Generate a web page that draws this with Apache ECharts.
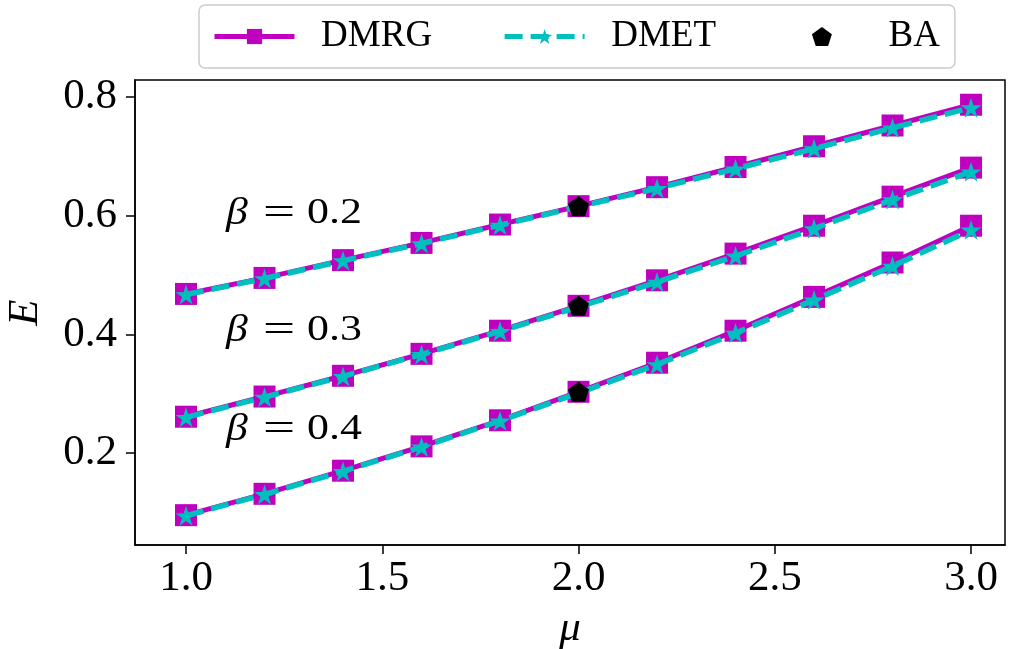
<!DOCTYPE html>
<html>
<head>
<meta charset="utf-8">
<script src="https://cdn.jsdelivr.net/npm/echarts@6/dist/echarts.min.js"></script>
<style>html,body{margin:0;padding:0;background:#fff;}#c{width:1013px;height:649px;}</style>
</head>
<body>
<div id="c"></div>
<script>
// ---- data ----
const mu = [1.0, 1.2, 1.4, 1.6, 1.8, 2.0, 2.2, 2.4, 2.6, 2.8, 3.0];
const dmrgB02 = [0.468, 0.495, 0.525, 0.554, 0.585, 0.616, 0.648, 0.682, 0.717, 0.752, 0.787];
const dmetB02 = [0.467, 0.494, 0.524, 0.553, 0.584, 0.615, 0.646, 0.679, 0.713, 0.748, 0.782];
const dmrgB03 = [0.261, 0.295, 0.330, 0.367, 0.406, 0.448, 0.491, 0.536, 0.583, 0.632, 0.681];
const dmetB03 = [0.260, 0.294, 0.329, 0.366, 0.405, 0.446, 0.488, 0.532, 0.578, 0.627, 0.674];
const dmrgB04 = [0.095, 0.131, 0.170, 0.211, 0.255, 0.303, 0.352, 0.406, 0.463, 0.521, 0.583];
const dmetB04 = [0.094, 0.130, 0.169, 0.210, 0.254, 0.301, 0.349, 0.402, 0.458, 0.515, 0.576];
const baMu = [2.0, 2.0, 2.0];
const baE = [0.616, 0.448, 0.303];
const xTicks = [1.0, 1.5, 2.0, 2.5, 3.0];
const yTicks = [0.2, 0.4, 0.6, 0.8];
const betaLabels = ['0.2', '0.3', '0.4'];

// ---- styling ----
const MAG = '#bf00bf', CYAN = '#00bfbf';
const FONT = 'Liberation Serif';
const STAR = 'path://M0,-1 L0.2245,-0.309 L0.951,-0.309 L0.363,0.118 L0.588,0.809 L0,0.382 L-0.588,0.809 L-0.363,0.118 L-0.951,-0.309 L-0.2245,-0.309 Z';
const PENT = 'path://M0,-1 L0.951,-0.309 L0.588,0.809 L-0.588,0.809 L-0.951,-0.309 Z';

const pairs = (xs, ys) => xs.map((x, i) => [x, ys[i]]);

function dmrg(ys) {
  return { name: 'DMRG', type: 'line', data: pairs(mu, ys), z: 2,
    symbol: 'rect', symbolSize: 22, showAllSymbol: true,
    lineStyle: { color: MAG, width: 5, type: 'solid' },
    itemStyle: { color: MAG, opacity: 1 }, emphasis: { disabled: true } };
}
function dmet(ys) {
  return { name: 'DMET', type: 'line', data: pairs(mu, ys), z: 3,
    symbol: STAR, symbolSize: 21, symbolKeepAspect: true, showAllSymbol: true,
    lineStyle: { color: CYAN, width: 5.5, type: [18, 8] },
    itemStyle: { color: CYAN, opacity: 1 }, emphasis: { disabled: true } };
}

const series = [
  dmrg(dmrgB02), dmrg(dmrgB03), dmrg(dmrgB04),
  dmet(dmetB02), dmet(dmetB03), dmet(dmetB04),
  { name: 'BA', type: 'scatter', data: pairs(baMu, baE), z: 4,
    symbol: PENT, symbolSize: 21, symbolKeepAspect: true,
    itemStyle: { color: '#000', opacity: 1 }, emphasis: { disabled: true } }
];

// beta annotations (pixel positions of annotation text)
const betaY = [214, 331, 430];
const graphic = [];
betaLabels.forEach((b, i) => {
  const y = betaY[i];
  graphic.push({ type: 'text', x: 226, y: y, scaleX: 1.15,
    style: { text: 'β', font: 'italic 38px "' + FONT + '"', fill: '#000', verticalAlign: 'middle', align: 'left' } });
  graphic.push({ type: 'text', x: 263, y: y, scaleX: 1.5,
    style: { text: '=', font: '38px "' + FONT + '"', fill: '#000', verticalAlign: 'middle', align: 'left' } });
  graphic.push({ type: 'text', x: 307, y: y, scaleX: 1.22,
    style: { text: b, font: '36px "' + FONT + '"', fill: '#000', verticalAlign: 'middle', align: 'left' } });
});

const axisCommon = {
  type: 'value',
  axisLine: { show: true, lineStyle: { color: '#000', width: 1.5 } },
  axisTick: { show: true, inside: false, length: 9, lineStyle: { color: '#000', width: 1.5 } },
  splitLine: { show: false },
  nameLocation: 'middle',
  nameTextStyle: { fontFamily: FONT, fontSize: 43, fontStyle: 'italic', color: '#000' }
};

const chart = echarts.init(document.getElementById('c'), null, { renderer: 'canvas' });
chart.setOption({
  animation: false,
  backgroundColor: '#fff',
  grid: { left: 135, right: 8, top: 80, bottom: 104, outerBoundsMode: 'none', containLabel: false,
    show: true, borderColor: '#000', borderWidth: 1.5, backgroundColor: 'transparent' },
  legend: {
    left: 199, top: 5, orient: 'horizontal',
    padding: [13, 15, 13, 13],
    itemWidth: 80, itemHeight: 19, itemGap: 70,
    borderColor: '#cccccc', borderWidth: 1.5, borderRadius: 6,
    backgroundColor: '#fff',
    lineStyle: { width: 5 },
    formatter: name => '\u2002\u200A' + name + (name === 'DMET' ? '\u2002\u2009' : ''),
    textStyle: { fontFamily: FONT, fontSize: 37, color: '#000' },
    data: ['DMRG', 'DMET', 'BA'],
    selectedMode: false
  },
  xAxis: Object.assign({}, axisCommon, {
    min: 0.87, max: 3.0865, name: 'μ', nameGap: 62,
    axisLabel: { customValues: xTicks, formatter: v => v.toFixed(1), fontFamily: FONT, fontSize: 43, color: '#000', margin: 12 },
    axisTick: Object.assign({}, axisCommon.axisTick, { customValues: xTicks })
  }),
  yAxis: Object.assign({}, axisCommon, {
    min: 0.0447, max: 0.8287, name: 'E', nameGap: 88,
    axisLabel: { customValues: yTicks, formatter: v => v.toFixed(1), fontFamily: FONT, fontSize: 43, color: '#000', margin: 18 },
    axisTick: Object.assign({}, axisCommon.axisTick, { customValues: yTicks })
  }),
  graphic: graphic,
  series: series
});
</script>
</body>
</html>
